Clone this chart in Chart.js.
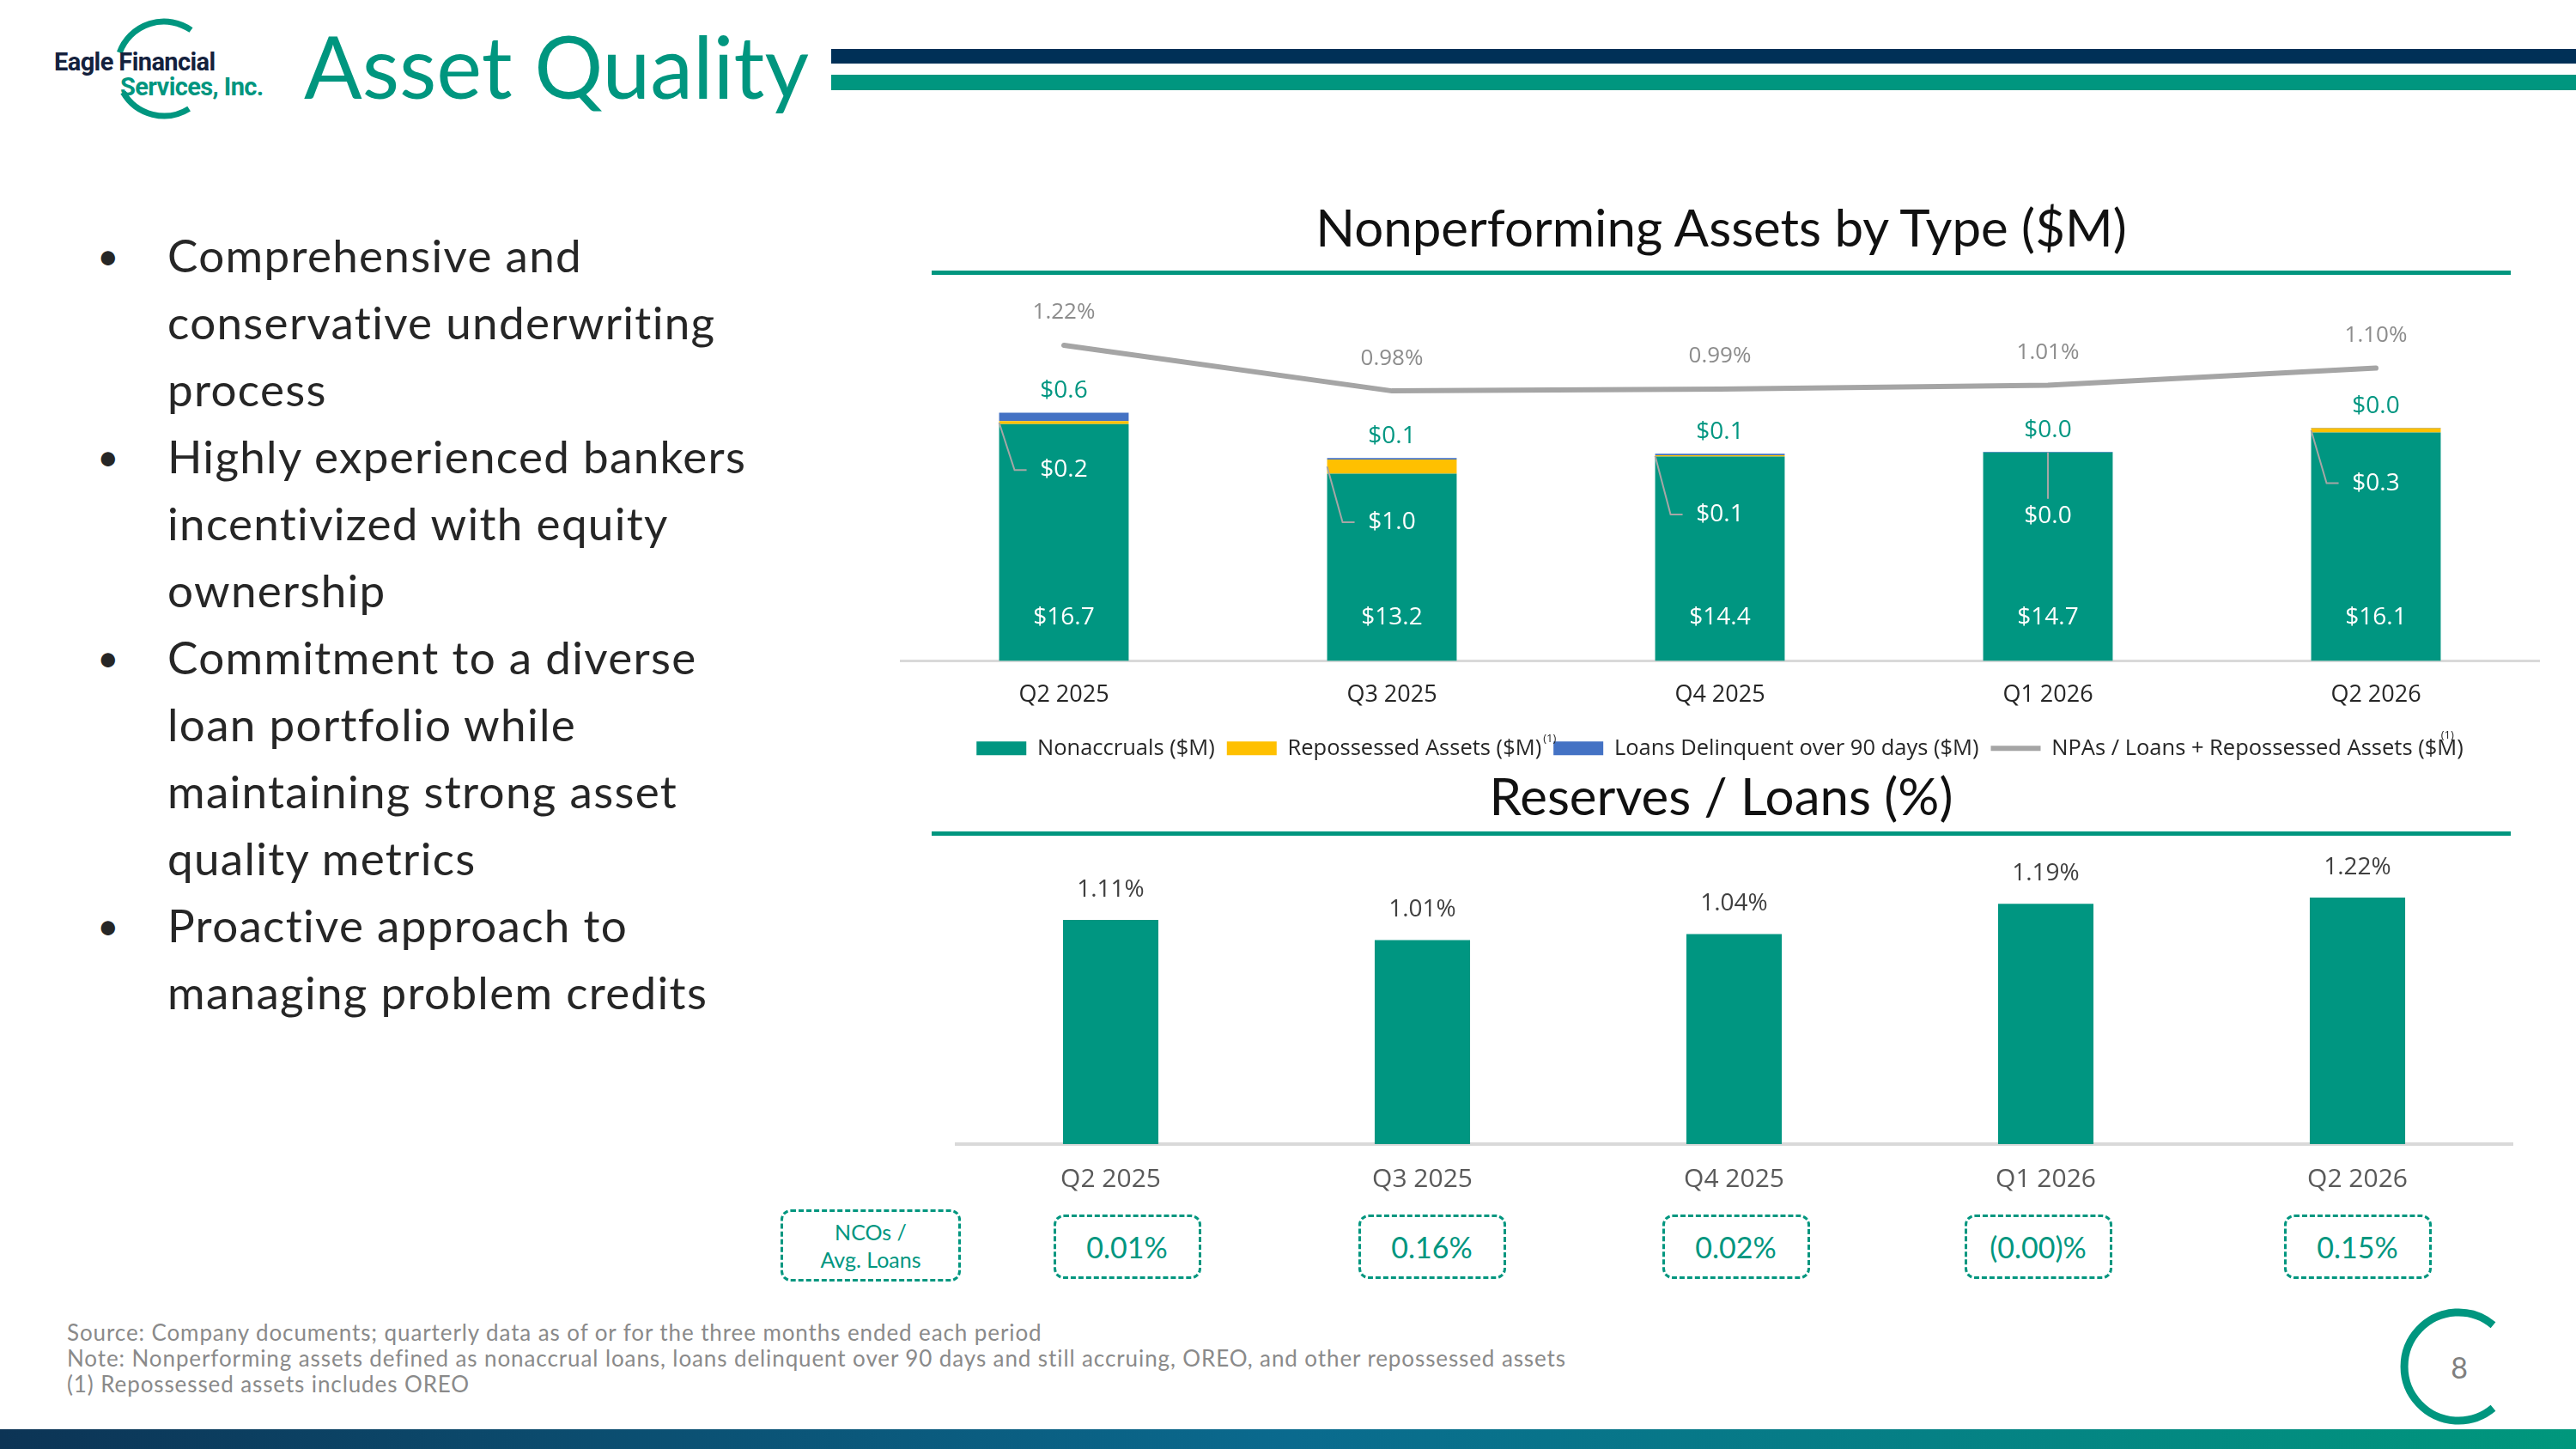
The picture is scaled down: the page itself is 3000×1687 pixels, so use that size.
<!DOCTYPE html>
<html>
<head>
<meta charset="utf-8">
<title>Asset Quality</title>
<script src="https://cdn.jsdelivr.net/npm/chart.js@4.4.1/dist/chart.umd.min.js"></script>
<style>
  html, body { margin: 0; padding: 0; background: #fff; }
  #page { position: relative; width: 3000px; height: 1687px; overflow: hidden; font-family: Lato, "Open Sans", sans-serif; }
  .abs { position: absolute; }
  #bullets { left: 113px; top: 258px; font-size: 53px; line-height: 78px; color: #262626; letter-spacing: 1.3px; }
  #bullets .item { position: relative; padding-left: 82px; white-space: nowrap; }
  #bullets .dot { position: absolute; left: 0; font-size: 44px; }
  .ctitle { left: 1085px; width: 1839px; text-align: center; font-size: 60px; line-height: 60px; color: #111; }
  #footer { left: 78px; top: 1536px; font-size: 26px; line-height: 30px; color: #8a8a8a; white-space: nowrap; letter-spacing: 0.9px; }
  .nco { border: 3px dashed #00967f; border-radius: 12px; box-sizing: border-box; color: #00967f;
         display: flex; align-items: center; justify-content: center; text-align: center; }
  canvas { position: absolute; }
</style>
</head>
<body>
<div id="page">
  <svg class="abs" style="left:0;top:0" width="3000" height="1687">
    <defs>
      <linearGradient id="band" x1="0" x2="1" y1="0" y2="0">
        <stop offset="0" stop-color="#0c3455"/>
        <stop offset="0.5" stop-color="#0a6a8e"/>
        <stop offset="1" stop-color="#00977c"/>
      </linearGradient>
    </defs>
    <!-- logo arc -->
    <path d="M222.5 35 A55 55 0 0 0 139.3 61.2" fill="none" stroke="#00967f" stroke-width="7"/>
    <path d="M143.4 107.5 A55 55 0 0 0 220.1 126.6" fill="none" stroke="#00967f" stroke-width="7"/>
    <!-- header bars -->
    <rect x="968" y="57" width="2032" height="17" fill="#003057"/>
    <rect x="968" y="87" width="2032" height="18" fill="#00967f"/>
    <!-- chart title rules -->
    <rect x="1085" y="315" width="1839" height="5" fill="#00967f"/>
    <rect x="1085" y="968" width="1839" height="5" fill="#00967f"/>
    <!-- page number arc -->
    <path d="M2903.5 1542.7 A63 63 0 1 0 2903.5 1639.3" fill="none" stroke="#00967f" stroke-width="9"/>
    <rect x="0" y="1664" width="3000" height="23" fill="url(#band)"/>
  </svg>

  <div class="abs" style="left:63px;top:58px;font-family:Roboto;font-weight:bold;font-size:29px;line-height:29px;letter-spacing:-0.6px;color:#14213d">Eagle Financial</div>
  <div class="abs" style="left:140px;top:87px;font-family:Roboto;font-weight:bold;font-size:29px;line-height:29px;letter-spacing:-0.6px;color:#00967f">Services, Inc.</div>
  <div class="abs" style="left:354px;top:26px;font-size:100px;line-height:100px;color:#00967f">Asset Quality</div>

  <div id="bullets" class="abs">
    <div class="item"><span class="dot">•</span>Comprehensive and<br>conservative underwriting<br>process</div>
    <div class="item"><span class="dot">•</span>Highly experienced bankers<br>incentivized with equity<br>ownership</div>
    <div class="item"><span class="dot">•</span>Commitment to a diverse<br>loan portfolio while<br>maintaining strong asset<br>quality metrics</div>
    <div class="item"><span class="dot">•</span>Proactive approach to<br>managing problem credits</div>
  </div>

  <div class="abs ctitle" style="top:234px">Nonperforming Assets by Type ($M)</div>
  <div class="abs ctitle" style="top:896px">Reserves / Loans (%)</div>

  <canvas id="npaChart" style="left:1048px;top:340px" width="1910" height="554"></canvas>
  <canvas id="resChart" style="left:1112px;top:991px" width="1815" height="411"></canvas>

  <div class="abs nco" style="left:909px;top:1408px;width:210px;height:84px;font-size:25px;line-height:32px">NCOs /<br>Avg. Loans</div>
  <div id="ncoRow"></div>

  <div id="footer" class="abs">
    Source: Company documents; quarterly data as of or for the three months ended each period<br>
    Note: Nonperforming assets defined as nonaccrual loans, loans delinquent over 90 days and still accruing, OREO, and other repossessed assets<br>
    (1) Repossessed assets includes OREO
  </div>
  <div class="abs" style="left:2834px;top:1572px;width:60px;text-align:center;font-size:34px;line-height:40px;color:#7f7f7f">8</div>
</div>

<script>
var categories = ['Q2 2025', 'Q3 2025', 'Q4 2025', 'Q1 2026', 'Q2 2026'];
var nonaccruals = [16.7, 13.2, 14.4, 14.7, 16.1];
var repossessed = [0.2, 1.0, 0.1, 0.0, 0.3];
var delinquent = [0.6, 0.1, 0.1, 0.04, 0.04];
var npaRatio = [1.22, 0.98, 0.99, 1.01, 1.10];
var reserveRatio = [1.11, 1.01, 1.04, 1.19, 1.22];
var ncoRatio = [0.01, 0.16, 0.02, -0.001, 0.15];

var teal = '#009681';
Chart.defaults.font.family = '"Open Sans", sans-serif';
Chart.defaults.color = '#262626';

// where the repossessed labels sit below their segment, and how the leader goes
var leaderDrop = [57, 73, 69, 74, 64];
var leaderKind = ['elbow', 'elbow', 'elbow', 'down', 'elbow'];
// small sideways nudges of the NCO boxes, as on the slide
var ncoNudge = [19, 11, 2, -9, 0];

function money(v) { return '$' + v.toFixed(1); }
function pct(v) { return v < 0 ? '(' + Math.abs(v).toFixed(2) + ')%' : v.toFixed(2) + '%'; }

var npaLabels = {
  id: 'npaLabels',
  afterDatasetsDraw: function (chart) {
    var ctx = chart.ctx;
    var base = chart.getDatasetMeta(0).data;
    var yel = chart.getDatasetMeta(1).data;
    var blu = chart.getDatasetMeta(2).data;
    var pts = chart.getDatasetMeta(3).data;
    ctx.save();
    ctx.textAlign = 'center';
    ctx.textBaseline = 'middle';
    base.forEach(function (bar, i) {
      ctx.font = '28px "Open Sans"';
      ctx.fillStyle = '#fff';
      ctx.fillText(money(nonaccruals[i]), bar.x, bar.base - 50);

      var seg = yel[i];
      var ly = seg.y + leaderDrop[i];
      ctx.strokeStyle = '#a6a6a6';
      ctx.lineWidth = 2;
      ctx.beginPath();
      if (leaderKind[i] === 'down') {
        ctx.moveTo(seg.x, seg.y);
        ctx.lineTo(seg.x, ly - 20);
      } else {
        var l = seg.x - seg.width / 2;
        ctx.moveTo(l, (seg.y + seg.base) / 2);
        ctx.lineTo(l + 18, ly);
        ctx.lineTo(l + 32, ly);
      }
      ctx.stroke();
      ctx.fillText(money(repossessed[i]), seg.x, ly);

      ctx.fillStyle = teal;
      ctx.fillText(money(delinquent[i]), blu[i].x, blu[i].y - 25);

      ctx.font = '26px "Open Sans"';
      ctx.fillStyle = '#8c8c8c';
      ctx.fillText(pct(npaRatio[i]), pts[i].x, pts[i].y - 38);
    });
    ctx.restore();
  },
  afterDraw: function (chart) {
    // (1) footnote marks in the legend
    var boxes = chart.legend.legendHitBoxes;
    var ctx = chart.ctx;
    ctx.save();
    ctx.font = '13px "Open Sans"';
    ctx.fillStyle = '#262626';
    ctx.textBaseline = 'middle';
    ctx.fillText('(1)', boxes[1].left + boxes[1].width + 2, boxes[1].top + 2);
    ctx.fillText('(1)', boxes[3].left + boxes[3].width - 26, boxes[3].top - 2);
    ctx.restore();
  }
};

new Chart(document.getElementById('npaChart'), {
  type: 'bar',
  data: {
    labels: categories,
    datasets: [
      { label: 'Nonaccruals ($M)', data: nonaccruals, backgroundColor: teal, pointStyle: 'rect', stack: 's' },
      { label: 'Repossessed Assets ($M)', data: repossessed, backgroundColor: '#ffc000', pointStyle: 'rect', stack: 's' },
      { label: 'Loans Delinquent over 90 days ($M)', data: delinquent, backgroundColor: '#4472c4', pointStyle: 'rect', stack: 's' },
      { type: 'line', label: 'NPAs / Loans + Repossessed Assets ($M)', data: npaRatio, yAxisID: 'y2',
        borderColor: '#a5a5a5', backgroundColor: '#a5a5a5', borderWidth: 6, pointRadius: 0,
        borderCapStyle: 'round', pointStyle: 'line', tension: 0 }
    ]
  },
  options: {
    responsive: false,
    animation: false,
    devicePixelRatio: 1,
    layout: { padding: 0 },
    datasets: { bar: { categoryPercentage: 1, barPercentage: 0.395 } },
    scales: {
      x: {
        stacked: true,
        grid: { display: false, drawTicks: false },
        border: { display: true, color: '#d9d9d9', width: 3 },
        ticks: { padding: 24, color: '#262626', font: { size: 27 } },
        afterFit: function (s) { s.height = 75; }
      },
      y: { stacked: true, display: false, min: 0, max: 26 },
      y2: { display: false, position: 'right', min: -0.44, max: 1.5 }
    },
    plugins: {
      tooltip: { enabled: false },
      legend: {
        position: 'bottom',
        labels: { usePointStyle: true, pointStyleWidth: 58, boxHeight: 16, padding: 14,
                  color: '#262626', font: { size: 25.5 } }
      }
    }
  },
  plugins: [npaLabels]
});

var resLabels = {
  id: 'resLabels',
  afterDatasetsDraw: function (chart) {
    var ctx = chart.ctx;
    ctx.save();
    ctx.textAlign = 'center';
    ctx.textBaseline = 'middle';
    ctx.font = '28px "Open Sans"';
    ctx.fillStyle = '#404040';
    chart.getDatasetMeta(0).data.forEach(function (bar, i) {
      ctx.fillText(pct(reserveRatio[i]), bar.x, bar.y - 35);
    });
    ctx.restore();
  }
};

var resChart = new Chart(document.getElementById('resChart'), {
  type: 'bar',
  data: {
    labels: categories,
    datasets: [{ label: 'Reserves / Loans', data: reserveRatio, backgroundColor: teal }]
  },
  options: {
    responsive: false,
    animation: false,
    devicePixelRatio: 1,
    layout: { padding: 0 },
    datasets: { bar: { categoryPercentage: 1, barPercentage: 0.306 } },
    scales: {
      x: {
        grid: { display: false, drawTicks: false },
        border: { display: true, color: '#d9d9d9', width: 4 },
        ticks: { padding: 23, color: '#595959', font: { size: 30 } },
        afterFit: function (s) { s.height = 70; }
      },
      y: { display: false, min: 0, max: 1.45 }
    },
    plugins: { legend: { display: false }, tooltip: { enabled: false } }
  },
  plugins: [resLabels]
});

// NCO boxes lined up under the reserve bars
var row = document.getElementById('ncoRow');
ncoRatio.forEach(function (v, i) {
  var cx = 1112 + resChart.scales.x.getPixelForValue(i) + ncoNudge[i];
  var box = document.createElement('div');
  box.className = 'abs nco';
  box.style.cssText = 'left:' + (cx - 86) + 'px;top:1414px;width:172px;height:75px;font-size:34px;';
  box.textContent = pct(v);
  row.appendChild(box);
});
</script>
</body>
</html>
